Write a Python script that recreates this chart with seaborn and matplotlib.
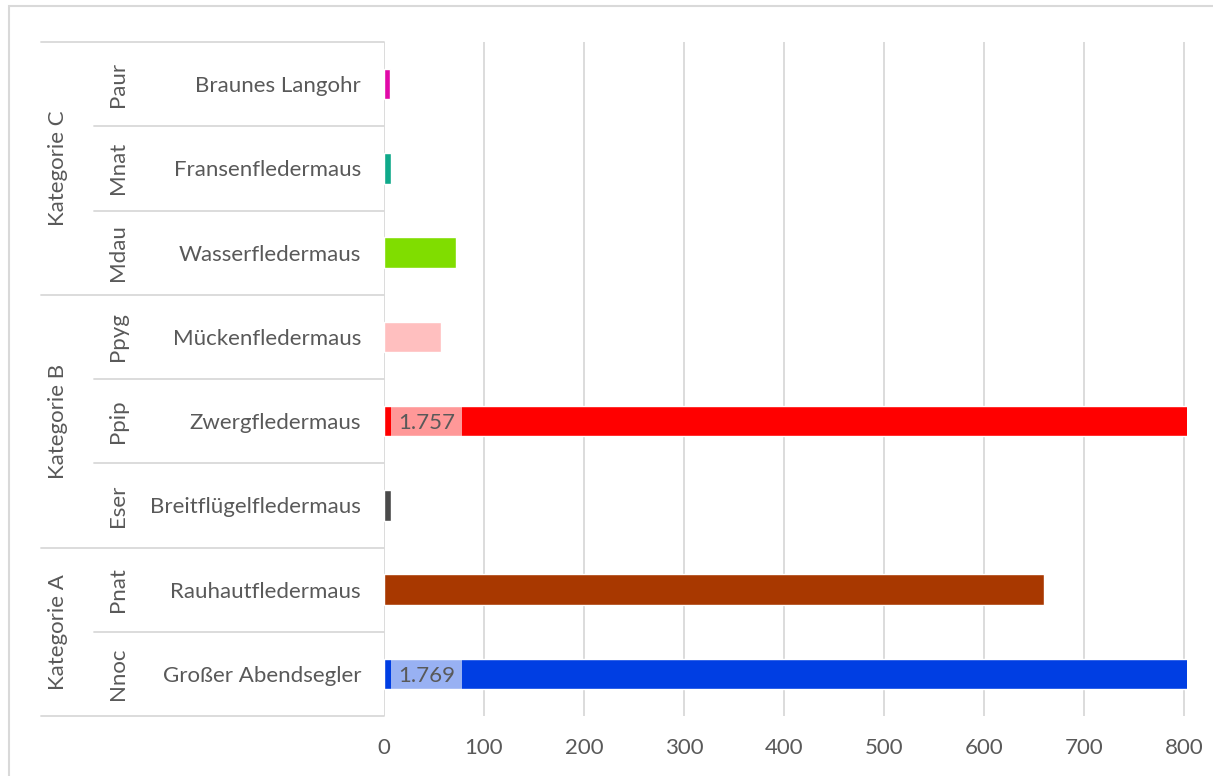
import matplotlib
matplotlib.use("Agg")
import matplotlib.pyplot as plt
import seaborn as sns
import pandas as pd
from matplotlib.transforms import blended_transform_factory
from matplotlib.patches import Rectangle
from matplotlib.lines import Line2D

# Bat detections per species, grouped by category
groups = ["Kategorie C", "Kategorie C", "Kategorie C",
          "Kategorie B", "Kategorie B", "Kategorie B",
          "Kategorie A", "Kategorie A"]
codes = ["Paur", "Mnat", "Mdau", "Ppyg", "Ppip", "Eser", "Pnat", "Nnoc"]
names = ["Braunes Langohr", "Fransenfledermaus", "Wasserfledermaus",
         "Mückenfledermaus", "Zwergfledermaus", "Breitflügelfledermaus",
         "Rauhautfledermaus", "Großer Abendsegler"]
counts = [6, 7, 72, 57, 1757, 7, 660, 1769]
colors = ["#E10AA8", "#0FA98A", "#80DD00", "#FFBFBF",
          "#FF0000", "#4A4A4A", "#A83800", "#003EE3"]
x_ticks = [0, 100, 200, 300, 400, 500, 600, 700, 800]
x_max = 800

TEXT = "#595959"
GRID = "#D9D9D9"
FS = 16

sns.set_theme(style="white")
plt.rcParams["font.family"] = ["Lato", "DejaVu Sans"]

W, H = 1213, 776
fig = plt.figure(figsize=(W / 100, H / 100), dpi=100)
L, R, T, B = 384, 1187, 42, 716
ax = fig.add_axes([L / W, 1 - B / H, (R - L) / W, (B - T) / H])

df = pd.DataFrame({"group": groups, "code": codes, "name": names, "count": counts})
sns.barplot(data=df, x="count", y="name", hue="name", palette=colors,
            legend=False, width=0.36, saturation=1, ax=ax)

ax.set_xlim(0, x_max * (R - L) / 800)
ax.set_ylim(len(names) - 0.5, -0.5)
ax.set_xticks(x_ticks)
ax.set_xticklabels([str(t) for t in x_ticks])
ax.set_xlabel("")
ax.set_ylabel("")
for s in ax.spines.values():
    s.set_visible(False)
ax.set_axisbelow(True)
ax.grid(axis="x", color=GRID, linewidth=1.3)
ax.grid(axis="y", visible=False)
ax.tick_params(axis="x", length=0, pad=16, labelsize=FS, labelcolor=TEXT)
ax.tick_params(axis="y", length=0, pad=16.5, labelsize=FS, labelcolor=TEXT)

# Multi-level category table on the left
trans = blended_transform_factory(ax.transAxes, ax.transData)
axw = R - L
def fx(px):
    return (px - L) / axw

n = len(names)
for i in range(n + 1):
    y = i - 0.5
    outer = i == 0 or i == n or groups[i] != groups[i - 1]
    x0 = fx(41) if outer else fx(94)
    ax.add_line(Line2D([x0, 0], [y, y], transform=trans, color=GRID,
                       linewidth=1.3, clip_on=False))

seen = []
for g in groups:
    if g not in seen:
        seen.append(g)
for g in seen:
    idx = [i for i, gg in enumerate(groups) if gg == g]
    yc = sum(idx) / len(idx)
    ax.text(fx(58), yc, g, rotation=90, ha="center", va="center",
            transform=trans, fontsize=FS, color=TEXT, clip_on=False)

for i, c in enumerate(codes):
    ax.text(fx(118), i, c, rotation=90, ha="center", va="center",
            transform=trans, fontsize=FS, color=TEXT, clip_on=False)

# Value labels for bars running past the axis maximum
for p in ax.patches:
    h = p.get_height()
    yc = p.get_y() + h / 2
    i = int(round(yc))
    if 0 <= i < n and counts[i] > x_max:
        ax.add_patch(Rectangle((7, p.get_y()), 71, h, facecolor="white",
                               alpha=0.6, linewidth=0, zorder=5))
        label = f"{counts[i]:,}".replace(",", ".")
        ax.text(42.5, yc, label, ha="center", va="center_baseline",
                fontsize=FS, color=TEXT, zorder=6)

# Chart frame
fig.add_artist(Rectangle((9 / W, -0.1), 1.5, (1 - 6 / H) + 0.1,
                         transform=fig.transFigure, fill=False,
                         edgecolor=GRID, linewidth=1.5))

fig.savefig("out.png", dpi=100, facecolor="white")
